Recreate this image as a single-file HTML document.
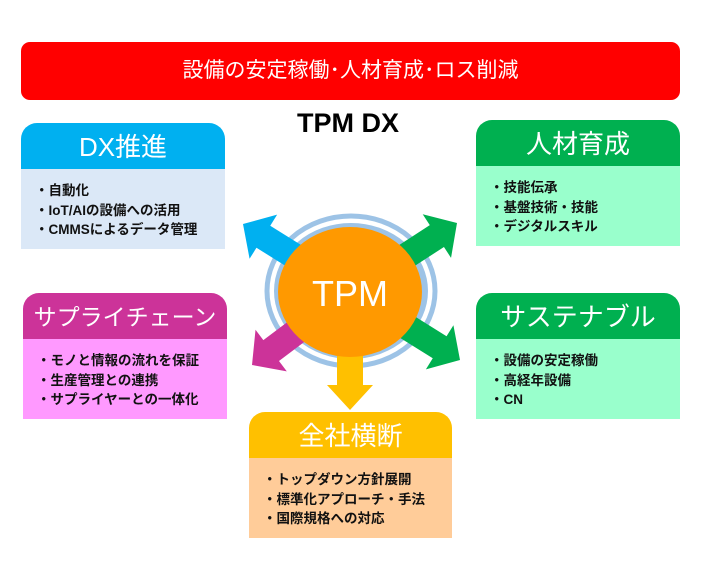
<!DOCTYPE html>
<html><head><meta charset="utf-8"><style>
body{margin:0;width:703px;height:577px;background:#fff;position:relative;overflow:hidden;font-family:"Liberation Sans","Noto Sans CJK JP",sans-serif}
.bar{position:absolute;left:21px;top:42px;width:659px;height:58px;background:#ff0000;border-radius:9px;color:#fff;font-size:21px;text-align:center;line-height:58px}
.title{position:absolute;left:248px;width:200px;top:108px;text-align:center;font-size:27px;font-weight:bold;color:#000}
.box{position:absolute;width:204px}
.hd{height:46px;border-radius:16px 16px 0 0;color:#fff;font-size:26px;text-align:center;line-height:48px}
.bd{height:80px;padding:12px 0 0 14px;box-sizing:border-box;font-size:13.5px;font-weight:bold;line-height:19.5px;color:#111}
svg{position:absolute;left:0;top:0}
</style></head><body>
<div class="bar">設備の安定稼働･人材育成･ロス削減</div>
<div class="title">TPM DX</div>
<div class="box" style="left:21px;top:123px"><div class="hd" style="background:#00b0f0">DX推進</div><div class="bd" style="background:#dbe8f7">・自動化<br>・IoT/AIの設備への活用<br>・CMMSによるデータ管理</div></div>
<div class="box" style="left:476px;top:120px"><div class="hd" style="background:#00b050">人材育成</div><div class="bd" style="background:#99ffcc;padding-left:14px">・技能伝承<br>・基盤技術・技能<br>・デジタルスキル</div></div>
<div class="box" style="left:23px;top:293px"><div class="hd" style="background:#cc3399;font-size:23px">サプライチェーン</div><div class="bd" style="background:#ff99ff">・モノと情報の流れを保証<br>・生産管理との連携<br>・サプライヤーとの一体化</div></div>
<div class="box" style="left:476px;top:293px"><div class="hd" style="background:#00b050">サステナブル</div><div class="bd" style="background:#99ffcc">・設備の安定稼働<br>・高経年設備<br>・CN</div></div>
<div class="box" style="left:249px;top:412px;width:203px"><div class="hd" style="background:#ffc000">全社横断</div><div class="bd" style="background:#ffcc99;padding-left:14px">・トップダウン方針展開<br>・標準化アプローチ・手法<br>・国際規格への対応</div></div>
<svg width="703" height="577">
<defs><polygon id="ar" points="-90,-13 -24,-13 -24,-26 0,0 -24,26 -24,13 -90,13"/></defs>
<ellipse cx="351" cy="291" rx="84" ry="75" fill="#fff" stroke="#9dc3e6" stroke-width="5"/>
<ellipse cx="351" cy="291" rx="78" ry="69" fill="#9dc3e6" stroke="#fff" stroke-width="2"/>
<use href="#ar" fill="#00b0f0" transform="translate(243,224) rotate(212)"/>
<use href="#ar" fill="#00b050" transform="translate(457,223) rotate(-33)"/>
<use href="#ar" fill="#cc3399" transform="translate(252,365) rotate(143)"/>
<use href="#ar" fill="#00b050" transform="translate(460,360) rotate(32)"/>
<polygon fill="#ffc000" points="337,340 363,340 363,385 373,385 350,410 327,385 337,385"/>
<ellipse cx="350" cy="292" rx="72" ry="65" fill="#ff9900"/>
<text x="350" y="306" text-anchor="middle" fill="#fff" font-size="36" font-family="Liberation Sans,sans-serif">TPM</text>
</svg>
</body></html>
